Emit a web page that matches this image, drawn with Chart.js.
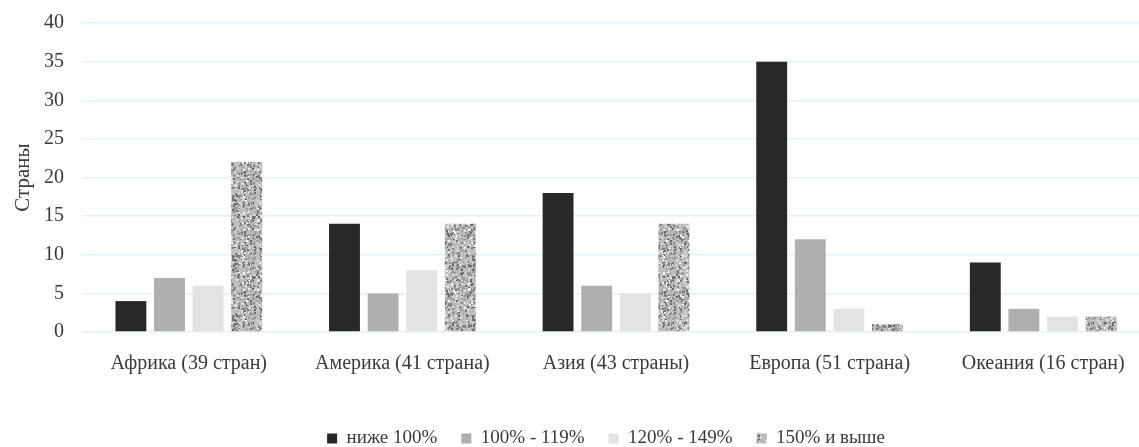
<!DOCTYPE html>
<html>
<head>
<meta charset="utf-8">
<script src="https://cdn.jsdelivr.net/npm/chart.js@4/dist/chart.umd.min.js"></script>
<style>
  html, body { margin: 0; padding: 0; background: #fff; overflow: hidden; }
  #wrap { width: 1139px; height: 447px; overflow: hidden; }
</style>
</head>
<body>
<div id="wrap"><canvas id="canvas" width="1150" height="447"></canvas></div>
<script>
// Data
const categories = ['Африка (39 стран)', 'Америка (41 страна)', 'Азия (43 страны)', 'Европа (51 страна)', 'Океания (16 стран)'];
const seriesNames = ['ниже 100%', '100% - 119%', '120% - 149%', '150% и выше'];
const below100 = [4, 14, 18, 35, 9];
const from100to119 = [7, 5, 6, 12, 3];
const from120to149 = [6, 8, 5, 3, 2];
const from150 = [22, 14, 14, 1, 2];
const yTicks = [0, 5, 10, 15, 20, 25, 30, 35, 40];

// grey speckle texture for the last series (deterministic LCG)
function makeNoise() {
  const c = document.createElement('canvas');
  c.width = 60; c.height = 60;
  const g = c.getContext('2d');
  let s = 98765;
  const rnd = () => { s = (s * 1103515245 + 12345) & 0x7fffffff; return s / 0x7fffffff; };
  g.fillStyle = '#bcbcbc';
  g.fillRect(0, 0, 60, 60);
  for (let i = 0; i < 1000; i++) {
    const v = Math.round(95 + rnd() * 150);
    g.fillStyle = `rgb(${v},${v},${v})`;
    g.fillRect(Math.floor(rnd() * 60), Math.floor(rnd() * 60), 2, 2);
  }
  return g.createPattern(c, 'repeat');
}
const noise = makeNoise();

const font = { family: '"Liberation Serif", "Times New Roman", serif', size: 20 };
const textColor = '#3a3a3a';
const common = { categoryPercentage: 0.723, barPercentage: 0.8, borderWidth: 0 };

// nudge the legend a bit left and down, like the original
const legendShift = {
  id: 'legendShift',
  afterLayout(chart) {
    const l = chart.legend;
    l.left -= 10; l.right -= 10;
    l.top += 11; l.bottom += 11;
  }
};

new Chart(document.getElementById('canvas').getContext('2d'), {
  type: 'bar',
  data: {
    labels: categories,
    datasets: [
      { label: seriesNames[0], data: below100, backgroundColor: '#282828', ...common },
      { label: seriesNames[1], data: from100to119, backgroundColor: '#afafaf', ...common },
      { label: seriesNames[2], data: from120to149, backgroundColor: '#e3e3e3', ...common },
      { label: seriesNames[3], data: from150, backgroundColor: noise, ...common }
    ]
  },
  plugins: [legendShift],
  options: {
    responsive: false,
    animation: false,
    layout: { padding: { top: 23, right: 0, left: 9, bottom: 0 } },
    plugins: {
      tooltip: { enabled: false },
      legend: {
        position: 'bottom',
        fullSize: false,
        labels: {
          font: { ...font, size: 19 },
          color: textColor,
          boxWidth: 10,
          boxHeight: 10,
          padding: 24
        }
      }
    },
    scales: {
      x: {
        grid: { display: false },
        border: { display: false },
        ticks: { font, color: textColor, padding: 12 },
        afterFit: axis => { axis.height += 6; }
      },
      y: {
        min: 0,
        max: 40,
        afterBuildTicks: axis => { axis.ticks = yTicks.map(v => ({ value: v })); },
        afterFit: axis => { axis.width = 73; axis.paddingTop = 0; axis.paddingBottom = 0; },
        grid: { color: '#e2f3f8', lineWidth: 1.5, drawTicks: false },
        border: { display: false },
        ticks: { font, color: textColor, padding: 18 },
        title: { display: true, text: 'Страны', font: { ...font, size: 21 }, color: textColor, padding: { top: 2, bottom: 0 } }
      }
    }
  }
});
</script>
</body>
</html>
